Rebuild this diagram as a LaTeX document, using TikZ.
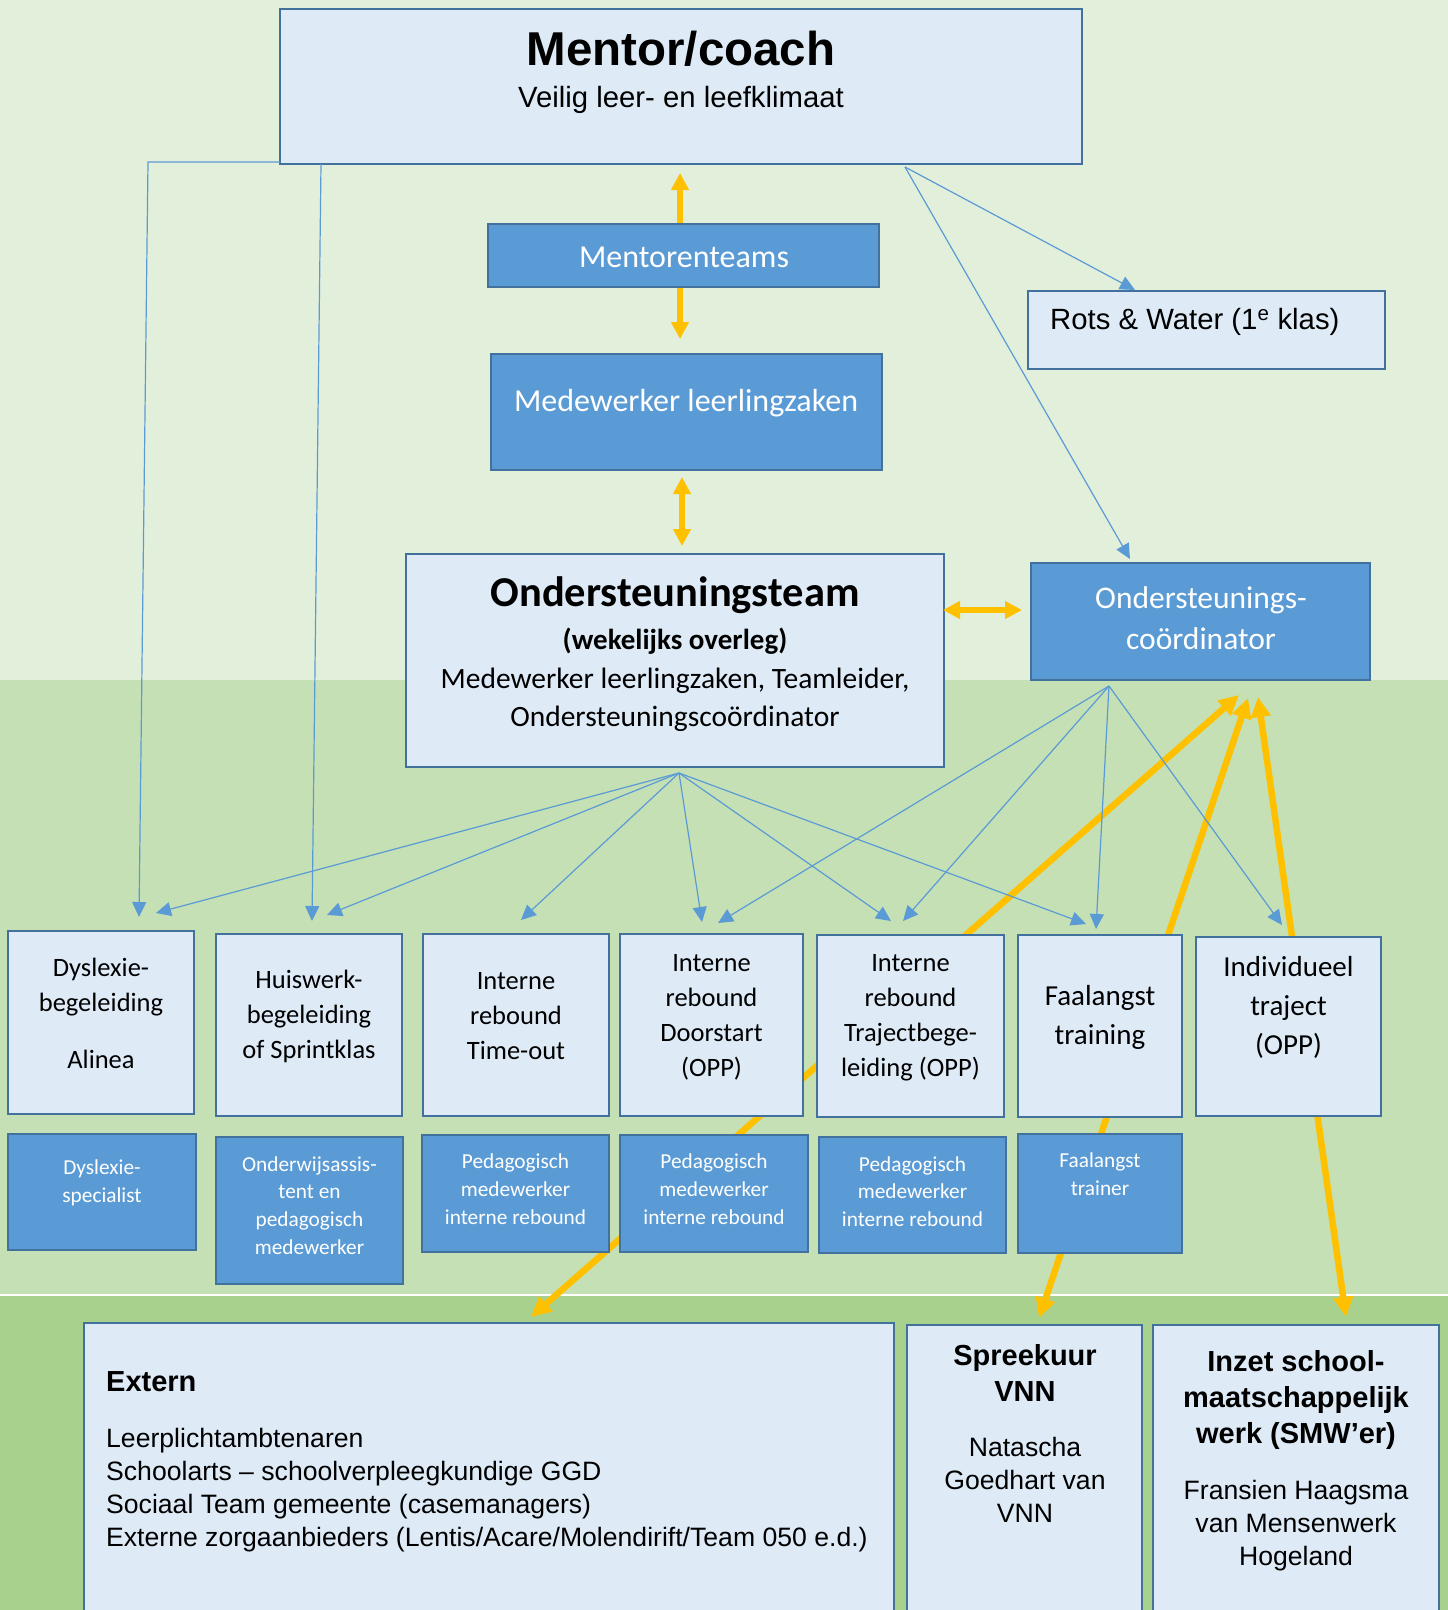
\documentclass[tikz,border=0pt]{standalone}
\usepackage{fontspec}
\setmainfont{Liberation Sans}
\newfontfamily\calib{Carlito}
\usetikzlibrary{arrows.meta,fit}
\definecolor{bandA}{HTML}{E2EFDA}
\definecolor{bandB}{HTML}{C5E0B4}
\definecolor{bandC}{HTML}{A9D18E}
\definecolor{lightfill}{HTML}{DEEBF7}
\definecolor{darkfill}{HTML}{5B9BD5}
\definecolor{boxline}{HTML}{41719C}
\definecolor{gold}{HTML}{FFC000}
\definecolor{linkblue}{HTML}{5B9BD5}
\newcommand\fsz[2]{\fontsize{#1}{#2}\selectfont}
\begin{document}
\begin{tikzpicture}[x=1pt,y=-1pt,
 lbox/.style={draw=boxline, fill=lightfill, line width=2.7pt, inner sep=0pt},
 dbox/.style={draw=boxline, fill=darkfill, line width=2.7pt, inner sep=0pt},
 txt/.style={inner sep=0pt, align=center},
 wtxt/.style={txt, text=white},
 link/.style={draw=linkblue, line width=1.2pt, -{Triangle[length=15pt,width=14pt]}},
 golden/.style={draw=gold, line width=6.5pt, {Triangle[length=20pt,width=19pt]}-{Triangle[length=20pt,width=19pt]}},
 goldshort/.style={draw=gold, line width=5.5pt, {Triangle[length=17pt,width=17pt]}-{Triangle[length=17pt,width=17pt]}},
 goldone/.style={draw=gold, line width=5.5pt, -{Triangle[length=17pt,width=17pt]}},
 rowtxt/.style={txt, font=\calib\fsz{26.5}{35}},
 rowbig/.style={txt, font=\calib\fsz{29}{39}},
 smalltxt/.style={wtxt, font=\calib\fsz{21.3}{27.7}},
]
\useasboundingbox (0,0) rectangle (1448,1610);
% background bands
\fill[bandA] (0,0) rectangle (1448,680);
\fill[bandB] (0,680) rectangle (1448,1294);
\fill[bandC] (0,1296) rectangle (1448,1610);
\draw[white, line width=2pt] (0,1295) -- (1448,1295);

% coordinates for connector ends
\coordinate (g1a) at (531,1317); \coordinate (g1b) at (1239,695);
\coordinate (g2a) at (1039,1318); \coordinate (g2b) at (1248,698);
\coordinate (g3a) at (1346,1317); \coordinate (g3b) at (1258,697);
\coordinate (mtUp) at (680,173); \coordinate (mtDown) at (680,339);
\coordinate (mtTop) at (680,225); \coordinate (mtBot) at (680,286);

% long gold arrows behind boxes
\draw[golden] (g1a) -- (g1b);
\draw[golden] (g2a) -- (g2b);
\draw[golden] (g3a) -- (g3b);
\draw[goldone] (mtTop) -- (mtUp);
\draw[goldone] (mtBot) -- (mtDown);

% boxes
\node[lbox, fit={(280,9) (1082,164)}] (mentor) {};
\node[dbox, fit={(488,224) (879,287)}] (mteams) {};
\node[dbox, fit={(491,354) (882,470)}] (mlz) {};
\node[lbox, fit={(406,554) (944,767)}] (ot) {};
\node[dbox, fit={(1031,563) (1370,680)}] (oc) {};
\node[lbox, fit={(1028,291) (1385,369)}] (rots) {};
\node[lbox, fit={(8,931) (194,1114)}] (r1) {};
\node[lbox, fit={(216,934) (402,1116)}] (r2) {};
\node[lbox, fit={(423,934) (609,1116)}] (r3) {};
\node[lbox, fit={(620,934) (803,1116)}] (r4) {};
\node[lbox, fit={(817,935) (1004,1117)}] (r5) {};
\node[lbox, fit={(1018,935) (1182,1117)}] (r6) {};
\node[lbox, fit={(1196,937) (1381,1116)}] (r7) {};
\node[dbox, fit={(8,1134) (196,1250)}] (d1) {};
\node[dbox, fit={(216,1137) (403,1284)}] (d2) {};
\node[dbox, fit={(422,1135) (609,1252)}] (d3) {};
\node[dbox, fit={(620,1135) (808,1252)}] (d4) {};
\node[dbox, fit={(819,1137) (1006,1253)}] (d5) {};
\node[dbox, fit={(1018,1134) (1182,1253)}] (d6) {};
\node[lbox, fit={(84,1323) (894,1640)}] (ext) {};
\node[lbox, fit={(907,1325) (1142,1640)}] (spr) {};
\node[lbox, fit={(1153,1325) (1439,1640)}] (inz) {};

% texts
\node[txt, font=\bfseries\fsz{47.5}{50}] (mentorT) at (681,49) {Mentor/coach};
\node[txt, font=\fsz{29.3}{34}] (mentorS) at (681,100) {Veilig leer- en leefklimaat};
\node[wtxt, font=\calib\fsz{32}{36}] (mteamsT) at (684,257.5) {Mentorenteams};
\node[wtxt, font=\calib\fsz{32}{36}] (mlzT) at (686,403) {Medewerker leerlingzaken};
\node[txt, font=\calib\bfseries\fsz{42.5}{46}] (otT) at (675,595) {Ondersteuningsteam};
\node[txt, font=\calib\bfseries\fsz{29}{34}] (otW) at (675,641) {(wekelijks overleg)};
\node[txt, font=\calib\fsz{29.5}{38}] (otM) at (675,699.5) {Medewerker leerlingzaken, Teamleider,\\Ondersteuningscoördinator};
\node[wtxt, font=\calib\fsz{31.5}{41}] (ocT) at (1201,618) {Ondersteunings-\\coördinator};
\node[txt, anchor=west, font=\fsz{29.3}{34}] (rotsT) at (1050,321.5) {Rots \& Water (1\textsuperscript{e} klas)};

\node[rowtxt] (r1T) at (101,1013.5) {Dyslexie-\\begeleiding\\[22pt]Alinea};
\node[rowtxt] (r2T) at (309,1016.5) {Huiswerk-\\begeleiding\\of Sprintklas};
\node[rowtxt] (r3T) at (516,1016.5) {Interne\\rebound\\Time-out};
\node[rowtxt] (r4T) at (711.5,1017) {Interne\\rebound\\Doorstart\\(OPP)};
\node[rowtxt] (r5T) at (910.5,1018) {Interne\\rebound\\Trajectbege-\\leiding (OPP)};
\node[rowbig] (r6T) at (1100,1017.5) {Faalangst\\training};
\node[rowbig] (r7T) at (1288.5,1007.5) {Individueel\\traject\\(OPP)};

\node[smalltxt] (d1T) at (102,1183) {Dyslexie-\\specialist};
\node[smalltxt] (d2T) at (309.5,1205.5) {Onderwijsassis-\\tent en\\pedagogisch\\medewerker};
\node[smalltxt] (d3T) at (515.5,1189) {Pedagogisch\\medewerker\\interne rebound};
\node[smalltxt] (d4T) at (714,1189) {Pedagogisch\\medewerker\\interne rebound};
\node[smalltxt] (d5T) at (912.5,1191.5) {Pedagogisch\\medewerker\\interne rebound};
\node[smalltxt] (d6T) at (1100,1174) {Faalangst\\trainer};

\node[txt, anchor=west, font=\bfseries\fsz{29}{34}] (extT) at (106,1382) {Extern};
\node[inner sep=0pt, align=left, anchor=west, font=\fsz{26.6}{33}] (extL) at (106,1490.5) {Leerplichtambtenaren\\Schoolarts – schoolverpleegkundige GGD\\Sociaal Team gemeente (casemanagers)\\Externe zorgaanbieders (Lentis/Acare/Molendirift/Team 050 e.d.)};
\node[txt, font=\bfseries\fsz{29}{36}] (sprT) at (1025,1372.5) {Spreekuur\\VNN};
\node[txt, font=\fsz{26.6}{33}] (sprN) at (1025,1480) {Natascha\\Goedhart van\\VNN};
\node[txt, font=\bfseries\fsz{29}{36}] (inzT) at (1296,1400) {Inzet school-\\maatschappelijk\\werk (SMW’er)};
\node[txt, font=\fsz{26.6}{33}] (inzN) at (1296,1526) {Fransien Haagsma\\van Mensenwerk\\Hogeland};

% short gold double arrows
\coordinate (mlzA) at (682,477); \coordinate (otA) at (682,546);
\coordinate (otR) at (943,610); \coordinate (ocL) at (1022,610);
\draw[goldshort] (mlzA) -- (otA);
\draw[goldshort] (otR) -- (ocL);

% blue connectors
\coordinate (otsrc) at (679,773);
\coordinate (ocsrc) at (1109,686);
\coordinate (msrc) at (905,167);
\coordinate (mleft) at (280,162);
\coordinate (mcorner) at (148,162);
\coordinate (mmid) at (321,164);
\coordinate (t1a) at (139,917); \coordinate (t1b) at (156,913);
\coordinate (t2a) at (312,921); \coordinate (t2b) at (327,915);
\coordinate (t3) at (521,920);
\coordinate (t4a) at (702,922); \coordinate (t4b) at (718,923);
\coordinate (t5a) at (891,921); \coordinate (t5b) at (903,921);
\coordinate (t6a) at (1086,924); \coordinate (t6b) at (1096,929);
\coordinate (t7) at (1282,925);
\coordinate (trots) at (1135,290);
\coordinate (toc) at (1130,559);

\draw[link] (mleft) -- (mcorner) -- (t1a);
\draw[link] (mmid) -- (t2a);
\draw[link] (msrc) -- (trots);
\draw[link] (msrc) -- (toc);
\foreach \t in {t1b,t2b,t3,t4a,t5a,t6a} \draw[link] (otsrc) -- (\t);
\foreach \t in {t4b,t5b,t6b,t7} \draw[link] (ocsrc) -- (\t);
\end{tikzpicture}
\end{document}
